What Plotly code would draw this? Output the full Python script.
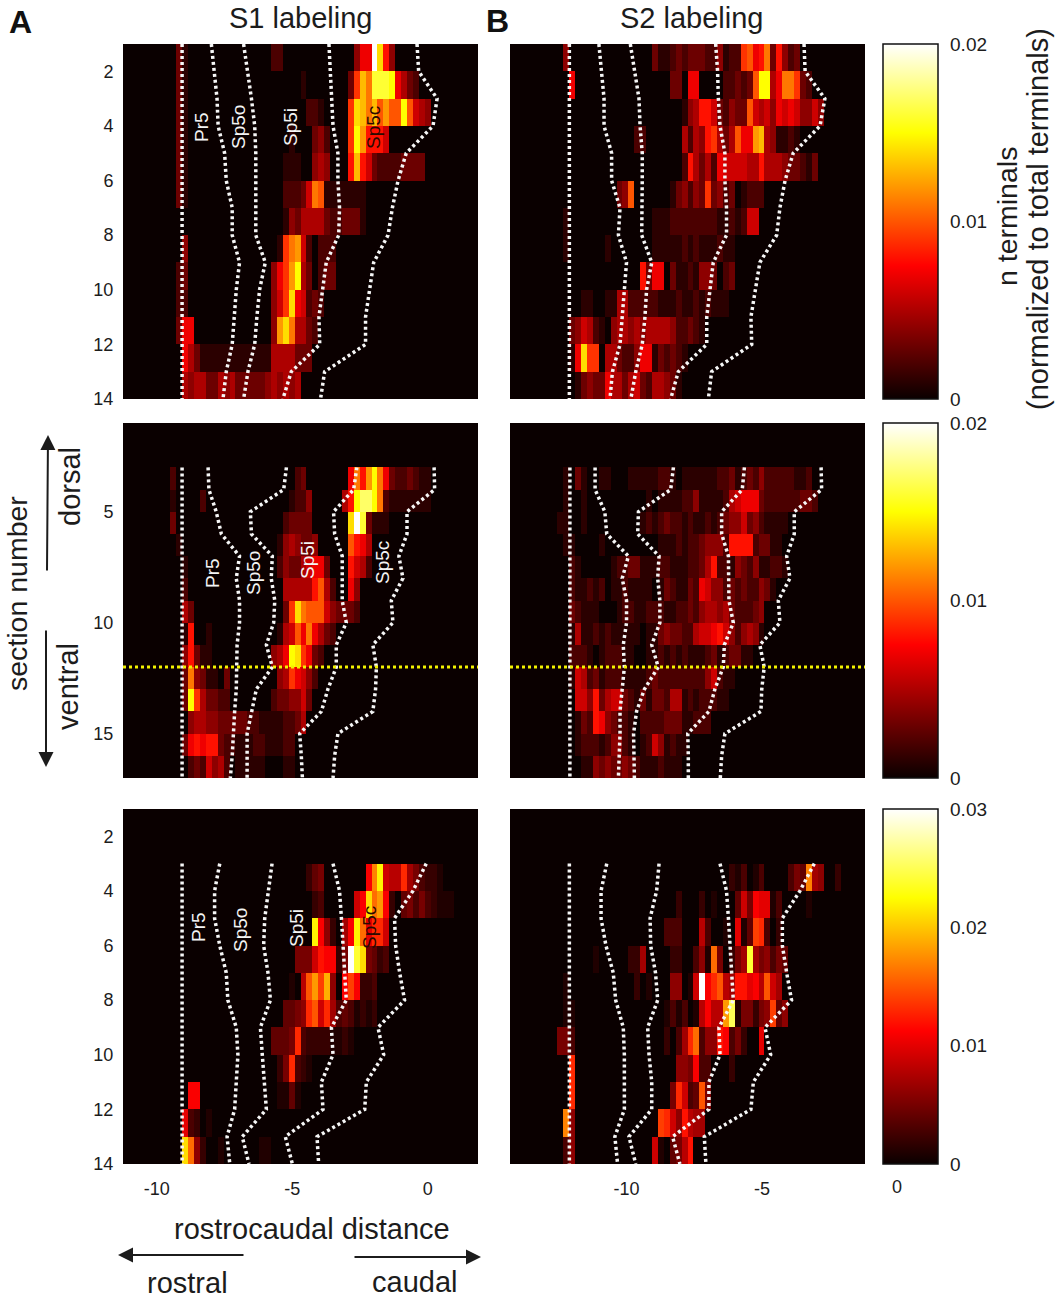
import plotly.graph_objects as go

# counts per bin, in units of 0.001 (row -> {first column: run of values})
s1_top = [
    {9: [3, 1], 25: [2, 2], 39: [4, 7, 7, 20, 14, 8, 4]},
    {9: [3, 1], 30: [1], 38: [3, 9, 13, 11, 16, 16, 16, 15, 7, 5, 3, 2]},
    {9: [3, 1], 31: [2, 2, 1], 38: [9, 14, 13, 11, 13, 10, 12, 10, 10, 15, 10, 6, 5, 4]},
    {9: [3, 1], 28: [1], 32: [3, 4, 2], 38: [9, 15, 12, 8, 8, 8, 6]},
    {9: [3, 1], 27: [1, 1, 1], 32: [4, 5, 4], 38: [8, 13, 8, 6, 3, 2, 2, 2, 2, 3, 3, 3, 3]},
    {9: [3, 1], 27: [2, 2, 2, 3, 6, 11, 10, 1, 1, 1, 1, 1, 1, 1]},
    {27: [1, 4, 3, 5, 5, 5, 5, 3, 2, 2, 3, 3, 3, 1]},
    {10: [4], 26: [1, 9, 11, 12, 6, 2, 0, 2, 2, 2]},
    {9: [2, 3], 25: [4, 7, 9, 12, 15, 5, 3, 0, 2, 3, 3]},
    {9: [2, 2], 25: [4, 6, 9, 14, 7, 6, 2, 3, 2]},
    {9: [3, 7, 7], 25: [4, 12, 14, 11, 5, 5, 3, 2]},
    {10: [7, 5, 3, 1, 1, 1, 1, 1, 1, 1, 1, 1, 1, 1, 1, 5, 5, 5, 5, 3, 3, 3]},
    {10: [5, 4, 5, 5, 3, 3, 5, 4, 5, 3, 3, 3, 3, 3, 4, 5, 4, 5, 4, 5]},
]
s2_top = [
    {9: [4], 24: [3, 1, 1, 2, 3, 2, 3, 3, 3, 2, 2, 4, 1, 2, 2, 9, 10, 7, 8, 11, 3, 8, 4, 2, 3]},
    {10: [7], 27: [3, 3, 0, 7, 7], 36: [2, 2, 3, 2, 3, 10, 15, 15, 5, 7, 11, 11, 9, 3, 2]},
    {29: [1, 4, 5, 8, 8, 6, 3, 2, 4, 3, 3, 10, 6, 5, 6, 4, 7, 6, 7, 6, 4, 4, 6, 4]},
    {21: [2, 2], 29: [5, 2, 5, 4, 8, 9, 5, 3, 5, 10, 7, 7, 12, 13, 5, 4, 1, 1, 2, 1]},
    {29: [2, 8, 5, 3, 5, 2, 7, 6, 6, 6, 6, 5, 5, 8, 5, 5, 5, 4, 3, 3, 2, 1, 3]},
    {18: [3, 4, 10], 27: [1, 3, 4, 2, 4, 3, 9, 3, 4, 2, 3, 0, 1, 2, 2, 2]},
    {9: [1], 24: [1, 1, 1, 2, 2, 2, 2, 2, 2, 2, 2, 1, 1, 2, 1, 2, 6, 6]},
    {9: [1], 16: [1], 24: [1, 1, 1, 1, 1, 2, 1, 2, 1, 1, 1, 2, 1, 1]},
    {22: [8, 3, 7, 7, 0, 3, 1, 1, 2, 1, 4, 4, 3, 0, 2, 3]},
    {12: [1, 1], 16: [1, 1, 5, 5, 2, 2, 2, 2, 2, 1, 1, 1, 2, 1, 1, 2, 1, 2, 1, 1, 1]},
    {10: [3, 4, 6, 5, 2, 1], 17: [4, 5, 5, 4, 5, 4, 5, 5, 5, 5, 4, 2, 2, 3, 2, 1]},
    {10: [1, 7, 14, 9, 9, 0, 5, 5, 3, 2, 2, 4, 7, 7, 1, 3, 2, 3, 2, 1]},
    {11: [1, 3, 4, 3, 3, 7, 5, 5, 3, 5, 6, 3, 2, 5, 5, 4, 3, 1]},
]
s1_mid = [
    {8: [2], 29: [2, 3], 38: [7, 11, 8, 12, 15, 11, 7, 3, 2, 2, 3, 2, 1, 1]},
    {8: [1], 13: [2], 28: [1, 2, 2, 4], 37: [5, 8, 15, 17, 17, 15, 11, 2, 1, 1, 1, 1, 1, 1, 1]},
    {8: [3], 27: [2, 3, 3, 3, 3], 38: [14, 20, 16, 3, 1, 1, 1]},
    {9: [1], 26: [1, 4, 5, 4, 3, 3, 4], 38: [10, 8, 7, 5]},
    {10: [1], 26: [2, 4, 3, 3, 5, 6, 7, 7, 3], 38: [8, 6, 5, 2]},
    {10: [2], 27: [5, 5, 5, 5, 5, 8, 10, 5, 2], 38: [7, 4]},
    {10: [5, 3], 27: [3, 9, 14, 11, 10, 10, 10, 6, 4, 3, 3, 3, 2]},
    {10: [1, 8], 14: [1], 26: [1, 5, 6, 10, 7, 11, 7, 5, 3, 2]},
    {10: [4, 8, 3, 1, 1], 25: [4, 5, 7, 15, 14, 9, 7, 3, 2]},
    {10: [3, 11, 4, 3, 1, 1, 0, 3], 26: [4, 5, 9, 7, 6, 4, 2]},
    {10: [3, 15, 9, 5, 3, 3, 2, 2], 25: [2, 3, 3, 4, 4, 6, 3]},
    {11: [4, 5, 5, 4, 4, 3, 3, 3, 3, 3, 2, 2, 1, 1, 1, 1, 2, 2, 3, 5]},
    {10: [3, 7, 8, 7, 8, 8, 3, 2, 2, 1, 1, 1, 2, 2, 1, 1, 1, 2, 2]},
    {11: [2, 3, 2, 6, 4, 5, 2, 0, 1, 1, 1, 1, 1], 27: [1, 1]},
]
s2_mid = [
    {9: [1, 0, 3, 1, 0, 0, 1, 1], 20: [1, 1, 1, 1, 1, 2, 2, 1, 0, 1, 1, 1, 1, 1, 1, 2, 2, 3, 1, 2, 3, 2, 4, 2, 2, 2, 2, 2, 1, 1, 2]},
    {9: [1], 12: [1], 23: [1, 0, 1, 1, 1, 1, 2, 2, 4, 1, 1, 1, 1, 2, 5, 6, 7, 7, 7, 3, 2, 2, 2, 2, 2, 2, 3, 3, 2]},
    {8: [1, 1], 12: [1], 22: [1, 2, 1, 2, 3, 2, 2, 1, 2, 1, 1, 2, 1, 2, 3, 4, 4, 6, 3, 4, 2, 1, 1, 1, 1]},
    {9: [1, 1], 15: [1], 25: [1, 1, 1, 2, 1, 2, 2, 3, 4, 4, 4, 2, 8, 8, 8, 8, 2, 3, 3, 1, 1]},
    {10: [2, 1], 17: [1, 2, 2, 3, 3, 1, 1, 1, 2, 2, 1, 1, 1, 2, 2, 3, 5, 8, 2, 2, 1, 4, 3, 2, 4, 1, 1, 2, 2, 1]},
    {10: [2, 1, 1, 2, 1, 2], 17: [1, 1, 2, 1, 1, 1, 1], 25: [1, 3, 2, 1, 1, 3, 2, 7, 6, 4, 4, 2, 3, 2, 3, 2, 2, 4, 3, 1]},
    {10: [3, 2, 1, 1, 1], 18: [1, 2, 2, 1, 1, 2, 2, 2, 1, 1, 2, 2, 3, 2, 4, 5, 5, 4, 5, 3, 2, 2, 2, 3, 4]},
    {10: [1, 5, 1, 1, 2, 1, 2, 1, 1, 1, 1, 1], 23: [1, 1, 3, 4, 3, 3, 2, 2, 5, 6, 6, 7, 8, 6, 4, 2, 4, 5, 4, 1]},
    {10: [2, 2, 2, 1], 15: [1, 2, 2, 2, 1, 1], 23: [1, 1, 2, 1, 2, 1, 2, 1, 1, 1, 2, 3, 1, 2, 3, 3, 1, 1]},
    {10: [1, 6, 5, 2, 3, 1, 2, 2, 2, 1, 1, 1, 1, 2, 3, 2, 2, 2, 2, 2, 2, 2, 2, 4, 6, 2, 1, 1]},
    {11: [6, 6, 4, 8, 3, 5, 6, 6, 3, 2, 1, 3, 1, 3, 3, 2, 5, 5, 1, 2, 1, 2, 2, 2, 1, 1]},
    {11: [1, 3, 2, 8, 7, 4, 3, 2, 2, 1, 0, 2, 2, 2, 2, 3, 3, 3, 1, 1, 2, 2, 2]},
    {11: [1, 2, 2, 2, 1, 2, 4, 4, 2, 1, 0, 1, 2, 6, 4, 1, 2, 1, 1]},
    {12: [1, 1, 4, 3, 4, 3, 3, 4, 3, 2, 1, 1, 1, 2, 1, 1, 1]},
]
s1_bot = [
    {31: [2, 4, 5], 41: [11, 17, 22, 9, 8, 8, 13, 7, 5, 3, 2, 2, 1]},
    {32: [2, 3], 39: [9, 11, 21, 16, 18, 11, 2, 0, 4, 5, 3, 5, 3, 2, 1, 1, 1]},
    {32: [22, 11, 6, 2], 37: [7, 11, 22, 16, 10, 13, 13, 9]},
    {29: [5, 5, 5, 9, 12, 11, 11, 2, 5, 30, 24, 21, 5, 4, 2, 3]},
    {28: [1], 30: [8, 15, 18, 14, 19, 6], 37: [11, 14, 11, 2, 2, 3]},
    {27: [4, 4, 5, 6, 13, 15, 9, 13, 7, 3, 4, 3, 1, 2, 1, 2]},
    {25: [4, 4, 4, 5, 13, 3, 2, 2, 2, 2, 1, 1, 2, 1]},
    {26: [2, 5, 13, 3, 2, 1]},
    {11: [11, 11], 26: [1, 1, 4, 1]},
    {10: [10, 3, 2], 14: [1]},
    {10: [21, 16, 6, 2], 16: [1], 23: [1, 1]},
]
s2_bot = [
    {37: [2, 1, 3], 41: [1, 3], 47: [3, 5, 4, 17, 7, 6], 55: [2]},
    {28: [2], 32: [2], 34: [1], 38: [4, 9, 5, 11, 10, 10, 1, 3], 50: [1]},
    {26: [3, 3, 3], 32: [8, 3], 36: [1], 38: [10, 1, 4, 14, 13, 3], 45: [2]},
    {14: [1], 20: [2, 2, 7], 27: [2, 2], 31: [3, 6, 1, 16, 5], 37: [2, 5, 7, 24, 7, 5, 6, 3, 5, 4]},
    {9: [1], 21: [2], 23: [1], 27: [6, 6], 30: [1, 9, 30, 11, 13, 15, 8, 7, 12, 12, 10, 11, 8, 15, 9, 7]},
    {9: [1, 1], 26: [1, 3, 1, 3], 31: [1, 8, 11, 8, 8, 18, 25, 1, 5, 5, 2, 5, 6, 14, 4, 6]},
    {8: [5, 5, 3], 26: [2], 28: [3, 7, 13, 16, 3, 6, 6, 12, 11, 3, 5, 2], 42: [10]},
    {10: [13], 28: [6, 6, 5, 11, 3, 3], 37: [2]},
    {10: [13], 27: [5, 13, 9, 3, 4, 15, 5]},
    {9: [17, 6], 25: [14, 13, 9, 6, 12, 8, 7, 7]},
    {9: [3, 6], 24: [9, 1], 27: [4, 5, 8, 12]},
]

# section numbers of the outlines
sections_top = [1, 2, 3, 4, 5, 6, 7, 8, 9, 10, 11, 12, 13, 14]
sections_mid = [3, 4, 5, 6, 7, 8, 9, 10, 11, 12, 13, 14, 15, 16, 17]
sections_bot = [3, 4, 5, 6, 7, 8, 9, 10, 11, 12, 13, 14]

# nucleus borders, rostrocaudal position at each section
borders_s1_top = [
    [-9.07] * 14,
    [-7.99, -7.87, -7.78, -7.74, -7.50, -7.44, -7.22, -7.22, -6.95, -7.07, -7.13, -7.22, -7.44, -7.56],
    [-6.80, -6.64, -6.51, -6.39, -6.35, -6.35, -6.35, -6.35, -6.00, -6.21, -6.31, -6.39, -6.64, -6.80],
    [-3.65, -3.60, -3.54, -3.50, -3.32, -3.32, -3.26, -3.29, -3.75, -3.87, -4.02, -3.99, -5.04, -5.35],
    [-0.40, -0.34, 0.34, 0.19, -0.80, -1.10, -1.31, -1.47, -2.00, -2.15, -2.30, -2.30, -3.81, -3.96],
]
borders_s2_top = [
    [-12.11] * 14,
    [-11.02, -10.92, -10.83, -10.83, -10.55, -10.55, -10.24, -10.30, -10.00, -10.08, -10.16, -10.24, -10.52, -10.61],
    [-9.86, -9.69, -9.54, -9.50, -9.42, -9.42, -9.42, -9.44, -9.07, -9.26, -9.32, -9.42, -9.66, -9.84],
    [-6.71, -6.64, -6.61, -6.55, -6.37, -6.37, -6.31, -6.31, -6.80, -6.92, -7.04, -7.04, -8.09, -8.37],
    [-3.45, -3.41, -2.68, -2.86, -3.85, -4.15, -4.34, -4.46, -5.08, -5.26, -5.41, -5.38, -6.86, -6.98],
]
borders_s1_mid = [
    [-9.07] * 15,
    [-8.11, -8.08, -7.81, -7.62, -6.95, -7.07, -6.95, -6.95, -7.04, -7.04, -7.07, -7.13, -7.17, -7.22, -7.29],
    [-5.22, -5.32, -6.55, -6.51, -5.74, -5.78, -5.65, -5.69, -5.96, -5.74, -6.33, -6.51, -6.67, -6.67, -6.67],
    [-2.62, -2.74, -3.48, -3.44, -3.16, -3.16, -3.16, -3.01, -3.38, -3.38, -3.69, -3.93, -4.73, -4.67, -4.63],
    [0.23, 0.25, -0.77, -0.77, -1.07, -0.92, -1.35, -1.29, -2.03, -1.90, -1.93, -2.03, -3.32, -3.44, -3.50],
]
borders_s2_mid = [
    [-12.09] * 15,
    [-11.16, -11.16, -10.80, -10.73, -9.93, -10.16, -10.00, -10.00, -10.12, -10.08, -10.16, -10.24, -10.24, -10.28, -10.30],
    [-8.27, -8.37, -9.56, -9.59, -8.80, -8.85, -8.77, -8.77, -9.07, -8.83, -9.34, -9.63, -9.74, -9.74, -9.71],
    [-5.65, -5.73, -6.49, -6.49, -6.24, -6.24, -6.22, -6.06, -6.39, -6.43, -6.74, -6.96, -7.74, -7.72, -7.72],
    [-2.82, -2.80, -3.81, -3.81, -4.09, -3.97, -4.40, -4.34, -5.08, -4.92, -5.01, -5.04, -6.37, -6.49, -6.54],
]
borders_s1_bot = [
    [-9.07] * 12,
    [-7.68, -7.87, -7.87, -7.68, -7.44, -7.38, -7.07, -7.01, -7.07, -7.13, -7.41, -7.31],
    [-5.75, -5.90, -6.02, -6.06, -5.90, -5.81, -6.18, -6.11, -6.02, -5.96, -6.85, -6.60],
    [-3.50, -3.26, -3.19, -3.13, -3.07, -3.01, -3.56, -3.50, -3.93, -3.87, -5.26, -5.00],
    [-0.06, -0.55, -1.23, -1.19, -1.04, -0.86, -1.84, -1.63, -2.27, -2.33, -4.09, -4.03],
]
borders_s2_bot = [
    [-12.11] * 12,
    [-10.73, -10.94, -10.94, -10.76, -10.49, -10.40, -10.12, -10.08, -10.08, -10.08, -10.43, -10.33],
    [-8.80, -8.89, -9.13, -9.11, -8.93, -8.85, -9.22, -9.17, -9.07, -9.07, -9.91, -9.66],
    [-6.55, -6.31, -6.24, -6.18, -6.12, -6.06, -6.59, -6.55, -6.96, -6.96, -8.30, -8.03],
    [-3.07, -3.60, -4.25, -4.25, -4.09, -3.91, -4.89, -4.68, -5.32, -5.41, -7.13, -7.07],
]

W, H = 1058, 1300
N_COLS = 60
BIN = 355 / N_COLS / 27.1
HOT = [[0, "#0a0000"], [0.375, "#ff0000"], [0.75, "#ffff00"], [1, "#ffffff"]]
FONT = "Liberation Sans, Arial, sans-serif"
INK = "#1c1c1c"


def px(x):
    return x / W


def py(y):
    return 1 - y / H


def to_grid(rows, first, n_rows):
    grid = [[0.0] * N_COLS for _ in range(n_rows)]
    for i, row in enumerate(rows):
        for col, run in row.items():
            for k, v in enumerate(run):
                grid[i + first - 1][col + k] = v * 0.001
    return grid


fig = go.Figure()

# rows, first row, n rows, zmax, borders, sections, axis x/y, pixel box, x start
panels = [
    (s1_top, 1, 13, 0.02, borders_s1_top, sections_top, "x", "y", 123, 44, -11.25),
    (s2_top, 1, 13, 0.02, borders_s2_top, sections_top, "x2", "y2", 510, 44, -14.3),
    (s1_mid, 3, 16, 0.02, borders_s1_mid, sections_mid, "x3", "y3", 123, 423, -11.25),
    (s2_mid, 3, 16, 0.02, borders_s2_mid, sections_mid, "x4", "y4", 510, 423, -14.3),
    (s1_bot, 3, 13, 0.03, borders_s1_bot, sections_bot, "x5", "y5", 123, 809, -11.25),
    (s2_bot, 3, 13, 0.03, borders_s2_bot, sections_bot, "x6", "y6", 510, 809, -14.3),
]

for n, (rows, first, n_rows, zmax, borders, sections, xa, ya, left, top, xstart) in enumerate(panels):
    in_b = n % 2 == 1
    cbar = None
    if in_b:
        if zmax == 0.02:
            vals = [0, 0.005, 0.01, 0.015, 0.02]
            labels = ["0", "", "0.01", "", "0.02"]
        else:
            vals = [0, 0.01, 0.02, 0.03]
            labels = ["0", "0.01", "0.02", "0.03"]
        cbar = dict(
            x=px(883), xanchor="left", xpad=0, y=py(top + 177.5), yanchor="middle", ypad=0,
            thicknessmode="pixels", thickness=55, lenmode="pixels", len=355,
            outlinecolor="#111111", outlinewidth=1.5,
            tickvals=vals, ticktext=labels, ticks="outside", ticklen=8, tickcolor="rgba(0,0,0,0)",
            tickfont=dict(family=FONT, size=19, color=INK),
        )
        # small inner ticks on both sides of the bar
        for v in vals[1:-1]:
            y_tick = py(top + 355 * (1 - v / zmax))
            for x0, x1 in [(883, 886), (935, 938)]:
                fig.add_shape(type="line", xref="paper", yref="paper", layer="above",
                              x0=px(x0), x1=px(x1), y0=y_tick, y1=y_tick,
                              line=dict(color="#222222", width=1.5))
    fig.add_trace(go.Heatmap(
        z=to_grid(rows, first, n_rows),
        x0=xstart + BIN / 2, dx=BIN, y0=1.5, dy=1,
        zmin=0, zmax=zmax, colorscale=HOT, showscale=in_b, colorbar=cbar,
        xaxis=xa, yaxis=ya,
    ))
    for b in borders:
        fig.add_trace(go.Scatter(
            x=b, y=sections, mode="lines", xaxis=xa, yaxis=ya, showlegend=False,
            line=dict(color="#f6f6f6", width=3.5, dash="3px,3px"),
        ))
    if 2 <= n <= 3:
        fig.add_trace(go.Scatter(
            x=[xstart, xstart + 13.1], y=[12, 12], mode="lines", xaxis=xa, yaxis=ya, showlegend=False,
            line=dict(color="#f2f200", width=3, dash="3px,3px"),
        ))

    ax_x = dict(
        domain=[px(left), px(left + 355)], range=[xstart, xstart + 13.1], showgrid=False, zeroline=False,
        tickvals=[-10, -5, 0] if not in_b else [-10, -5],
        ticktext=["-10", "-5", "0"] if not in_b else ["-10", "-5"],
        showticklabels=n >= 4, ticks="", ticklabelstandoff=12,
        tickfont=dict(family=FONT, size=18, color=INK),
        anchor=ya,
    )
    if n_rows == 16:
        ticks_y = [5, 10, 15]
        rng = [17, 1]
    else:
        ticks_y = [2, 4, 6, 8, 10, 12, 14]
        rng = [14, 1]
    ax_y = dict(
        domain=[py(top + 355), py(top)], range=rng, showgrid=False, zeroline=False,
        tickvals=ticks_y, showticklabels=not in_b, ticks="outside", ticklen=5, tickcolor="rgba(0,0,0,0)",
        tickfont=dict(family=FONT, size=18, color=INK),
        anchor=xa,
    )
    suffix = "" if n == 0 else str(n + 1)
    fig.update_layout({"xaxis" + suffix: ax_x, "yaxis" + suffix: ax_y})


def label(text, x, y, size=29, color=INK, angle=0, bold=False):
    fig.add_annotation(
        text="<b>%s</b>" % text if bold else text, x=px(x), y=py(y), xref="paper", yref="paper",
        xanchor="center", yanchor="middle", showarrow=False, textangle=angle,
        font=dict(family=FONT, size=size, color=color),
    )


label("A", 20, 22, size=32, color="#111111", bold=True)
label("B", 497, 21, size=32, color="#111111", bold=True)
label("S1 labeling", 301, 18)
label("S2 labeling", 692, 18)

label("n terminals", 1007, 217, size=28.5, angle=-90)
label("(normalized to total terminals)", 1038, 219, size=29, angle=-90)

label("section number", 17, 594, size=28.5, angle=-90)
label("dorsal", 70, 487, angle=-90)
label("ventral", 68, 687, angle=-90)

label("rostrocaudal distance", 312, 1229)
label("rostral", 187, 1283)
label("caudal", 414, 1282)
label("0", 897, 1187, size=18)

for text, x, y, color in [
    ("Pr5", 201, 127, "#f4f4f4"), ("Sp5o", 238, 127, "#f4f4f4"), ("Sp5i", 290, 127, "#f4f4f4"), ("Sp5c", 373, 128, "#2a0a00"),
    ("Pr5", 212, 573, "#f4f4f4"), ("Sp5o", 253, 573, "#f4f4f4"), ("Sp5i", 307, 560, "#f4f4f4"), ("Sp5c", 382, 563, "#f4f4f4"),
    ("Pr5", 198, 927, "#f4f4f4"), ("Sp5o", 240, 930, "#f4f4f4"), ("Sp5i", 297, 928, "#f4f4f4"), ("Sp5c", 370, 928, "#2a0a00"),
]:
    label(text, x, y, size=19, color=color, angle=-90)

# dorsal/ventral and rostral/caudal arrows: tail and head in page pixels
for (x_tail, y_tail, x_head, y_head) in [(47, 572, 48, 435), (46, 629, 46, 767), (245, 1255, 118, 1255), (353, 1257, 481, 1257)]:
    fig.add_annotation(
        x=px(x_head), y=py(y_head), ax=x_tail - x_head, ay=y_tail - y_head,
        xref="paper", yref="paper", axref="pixel", ayref="pixel", text="",
        showarrow=True, arrowhead=2, arrowsize=1.5, arrowwidth=2, arrowcolor=INK,
    )

fig.update_layout(
    width=W, height=H, margin=dict(l=0, r=0, t=0, b=0, autoexpand=False),
    paper_bgcolor="white", plot_bgcolor="#0a0000", showlegend=False,
)

# the figure fills the whole window, so the page's default body margin has to go
fig.write_html("out.html", config={"displayModeBar": False}, post_script="document.body.style.margin = '0';")
